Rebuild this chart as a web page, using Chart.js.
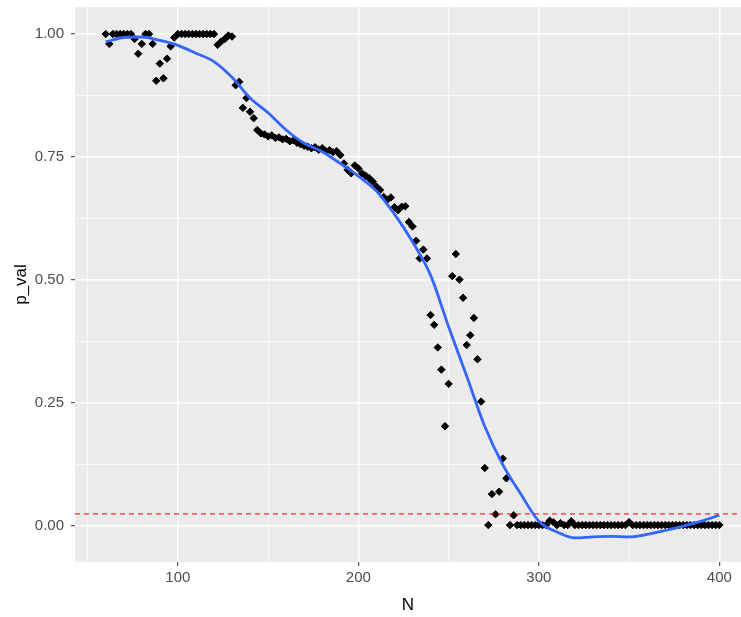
<!DOCTYPE html>
<html lang="en">
<head>
<meta charset="UTF-8">
<title>p_val vs N</title>
<script src="https://cdn.jsdelivr.net/npm/chart.js@4.4.1/dist/chart.umd.min.js"></script>
<style>
  html, body { margin: 0; padding: 0; background: #ffffff; }
  #wrap { width: 741px; height: 617px; }
</style>
</head>
<body>
<div id="wrap"><canvas id="myChart" width="741" height="617"></canvas></div>
<script>
    // sample sizes
    const nValues = [
        60, 62, 64, 66, 68, 70, 72, 74, 76, 78,
        80, 82, 84, 86, 88, 90, 92, 94, 96, 98,
        100, 102, 104, 106, 108, 110, 112, 114, 116, 118,
        120, 122, 124, 126, 128, 130, 132, 134, 136, 138,
        140, 142, 144, 146, 148, 150, 152, 154, 156, 158,
        160, 162, 164, 166, 168, 170, 172, 174, 176, 178,
        180, 182, 184, 186, 188, 190, 192, 194, 196, 198,
        200, 202, 204, 206, 208, 210, 212, 214, 216, 218,
        220, 222, 224, 226, 228, 230, 232, 234, 236, 238,
        240, 242, 244, 246, 248, 250, 252, 254, 256, 258,
        260, 262, 264, 266, 268, 270, 272, 274, 276, 278,
        280, 282, 284, 286, 288, 290, 292, 294, 296, 298,
        300, 302, 304, 306, 308, 310, 312, 314, 316, 318,
        320, 322, 324, 326, 328, 330, 332, 334, 336, 338,
        340, 342, 344, 346, 348, 350, 352, 354, 356, 358,
        360, 362, 364, 366, 368, 370, 372, 374, 376, 378,
        380, 382, 384, 386, 388, 390, 392, 394, 396, 398,
        400
    ];

    // p values, same order as nValues
    const pValues = [
        1.00, 0.98, 1.00, 1.00, 1.00, 1.00, 1.00, 1.00, 0.99, 0.96,
        0.98, 1.00, 1.00, 0.98, 0.905, 0.94, 0.91, 0.95, 0.975, 0.993,
        1.00, 1.00, 1.00, 1.00, 1.00, 1.00, 1.00, 1.00, 1.00, 1.00,
        1.00, 0.978, 0.985, 0.99, 0.997, 0.995, 0.896, 0.903, 0.85, 0.87,
        0.842, 0.829, 0.805, 0.798, 0.796, 0.792, 0.794, 0.789, 0.79, 0.786,
        0.787, 0.782, 0.784, 0.779, 0.776, 0.773, 0.771, 0.768, 0.77, 0.765,
        0.768, 0.762, 0.764, 0.76, 0.762, 0.754, 0.737, 0.724, 0.717, 0.733,
        0.727, 0.717, 0.712, 0.707, 0.70, 0.69, 0.683, 0.669, 0.663, 0.668,
        0.648, 0.642, 0.649, 0.65, 0.618, 0.609, 0.58, 0.544, 0.562, 0.544,
        0.429, 0.409, 0.363, 0.318, 0.203, 0.289, 0.508, 0.553, 0.501, 0.464,
        0.368, 0.388, 0.423, 0.339, 0.253, 0.118, 0.002, 0.065, 0.024, 0.07,
        0.137, 0.097, 0.002, 0.022, 0.002, 0.002, 0.002, 0.002, 0.002, 0.002,
        0.002, 0.002, 0.002, 0.011, 0.008, 0.002, 0.006, 0.002, 0.002, 0.01,
        0.002, 0.002, 0.002, 0.002, 0.002, 0.002, 0.002, 0.002, 0.002, 0.002,
        0.002, 0.002, 0.002, 0.002, 0.002, 0.008, 0.002, 0.002, 0.002, 0.002,
        0.002, 0.002, 0.002, 0.002, 0.002, 0.002, 0.002, 0.002, 0.002, 0.002,
        0.002, 0.002, 0.002, 0.002, 0.002, 0.002, 0.002, 0.002, 0.002, 0.002,
        0.002
    ];

    // smoothed (loess) curve
    const smoothN = [60, 70, 80, 90, 100, 110, 120, 130, 140, 150, 160, 170, 180, 190, 200, 210, 220,
        230, 240, 250, 260, 270, 280, 290, 300, 310, 320, 330, 340, 350, 360, 370, 380, 390, 400];
    const smoothP = [0.984, 0.993, 0.994, 0.987, 0.977, 0.961, 0.944, 0.912, 0.870, 0.840, 0.805, 0.778,
        0.761, 0.737, 0.711, 0.681, 0.634, 0.578, 0.510, 0.405, 0.305, 0.203, 0.125, 0.065, 0.010,
        -0.012, -0.024, -0.022, -0.021, -0.022, -0.017, -0.009, 0.000, 0.010, 0.022];

    const cutoff = 0.025; // red dashed line

    const xLimits = [43, 412];
    const yLimits = [-0.073, 1.055];
    const xTicks = [50, 100, 150, 200, 250, 300, 350, 400];
    const xLabels = [100, 200, 300, 400];
    const yTicks = [0, 0.125, 0.25, 0.375, 0.5, 0.625, 0.75, 0.875, 1];
    const yLabels = [0, 0.25, 0.5, 0.75, 1];

    const points = nValues.map((n, i) => ({ x: n, y: pValues[i] }));
    const smooth = smoothN.map((n, i) => ({ x: n, y: smoothP[i] }));
    const cutLine = xLimits.map(x => ({ x: x, y: cutoff }));

    // grey ggplot panel
    const panelBg = {
        id: 'panelBg',
        beforeDraw(chart) {
            const { ctx, chartArea: a } = chart;
            ctx.save();
            ctx.fillStyle = '#EBEBEB';
            ctx.fillRect(a.left, a.top, a.right - a.left, a.bottom - a.top);
            ctx.restore();
        }
    };

    function gridFor(labels) {
        return {
            color: '#FFFFFF',
            lineWidth: c => labels.includes(c.tick.value) ? 1.4 : 0.7,
            tickColor: c => labels.includes(c.tick.value) ? '#333333' : 'rgba(0,0,0,0)',
            tickWidth: 1,
            tickLength: 4,
            drawTicks: true
        };
    }

    // no extra room for edge labels, the panel is placed by hand
    function noPad(s) {
        s.paddingTop = 0;
        s.paddingBottom = 0;
        s.paddingLeft = 0;
        s.paddingRight = 0;
    }

    const font = 'Liberation Sans, Arial, sans-serif';

    const config = {
        type: 'scatter',
        data: {
            datasets: [
                {
                    label: 'cutoff',
                    data: cutLine,
                    showLine: true,
                    borderColor: 'rgba(255,20,20,0.9)',
                    borderWidth: 1.3,
                    borderDash: [5, 4],
                    pointRadius: 0,
                    order: 1
                },
                {
                    label: 'loess',
                    data: smooth,
                    showLine: true,
                    borderColor: '#3366FF',
                    borderWidth: 2.8,
                    cubicInterpolationMode: 'monotone',
                    pointRadius: 0,
                    order: 2
                },
                {
                    label: 'p_val',
                    data: points,
                    pointStyle: 'rectRot',
                    pointRadius: 3.7,
                    pointBorderWidth: 1,
                    backgroundColor: '#000000',
                    borderColor: '#000000',
                    order: 3
                }
            ]
        },
        options: {
            responsive: false,
            animation: false,
            devicePixelRatio: 1,
            layout: { autoPadding: false, padding: { top: 7, right: 0, left: 0, bottom: 0 } },
            plugins: {
                legend: { display: false },
                tooltip: { enabled: false }
            },
            scales: {
                x: {
                    type: 'linear',
                    min: xLimits[0],
                    max: xLimits[1],
                    afterBuildTicks: s => { s.ticks = xTicks.map(v => ({ value: v })); },
                    afterFit: s => { s.height = 55; noPad(s); },
                    border: { display: false },
                    grid: gridFor(xLabels),
                    ticks: {
                        autoSkip: false,
                        maxRotation: 0,
                        padding: 3,
                        color: '#4D4D4D',
                        font: { family: font, size: 15 },
                        callback: v => xLabels.includes(v) ? String(v) : ''
                    },
                    title: {
                        display: true,
                        text: 'N',
                        color: '#000000',
                        font: { family: font, size: 17 },
                        padding: { top: 0, bottom: 1 }
                    }
                },
                y: {
                    type: 'linear',
                    min: yLimits[0],
                    max: yLimits[1],
                    afterBuildTicks: s => { s.ticks = yTicks.map(v => ({ value: v })); },
                    afterFit: s => { s.width = 75; noPad(s); },
                    border: { display: false },
                    grid: gridFor(yLabels),
                    ticks: {
                        autoSkip: false,
                        padding: 7,
                        color: '#4D4D4D',
                        font: { family: font, size: 15 },
                        callback: v => yLabels.includes(v) ? v.toFixed(2) : ''
                    },
                    title: {
                        display: true,
                        text: 'p_val',
                        color: '#000000',
                        font: { family: font, size: 17 },
                        padding: { top: 11, bottom: 0 }
                    }
                }
            }
        },
        plugins: [panelBg]
    };

    const myChart = new Chart(document.getElementById('myChart'), config);
</script>
</body>
</html>
